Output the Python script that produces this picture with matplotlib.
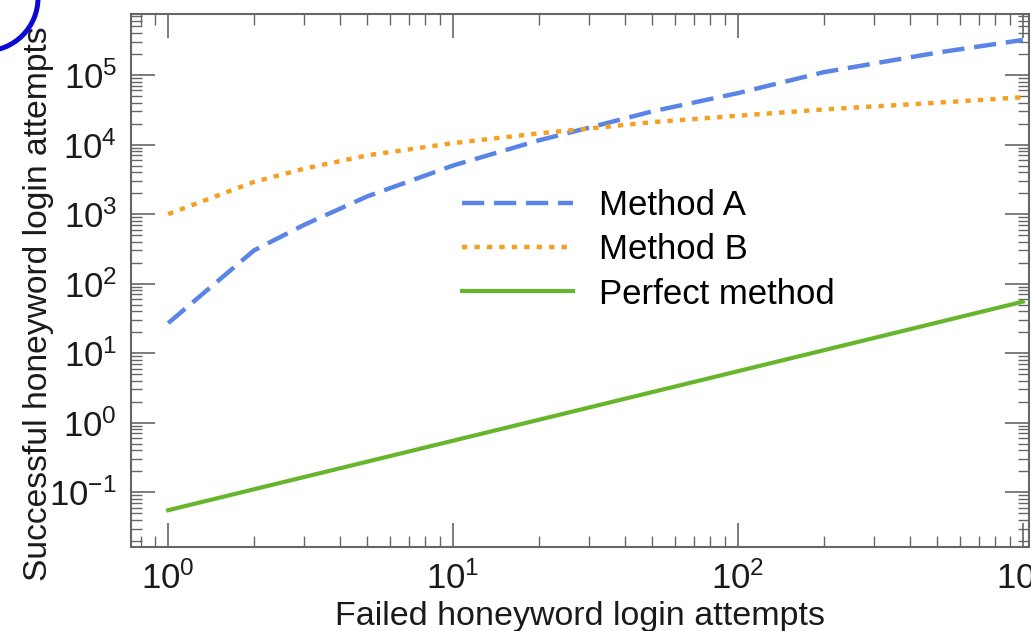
import matplotlib
matplotlib.use("Agg")
import matplotlib.pyplot as plt
from matplotlib.patches import Circle
from matplotlib.ticker import LogLocator, NullFormatter

plt.rcParams['font.family'] = ['Liberation Sans', 'DejaVu Sans']
plt.rcParams['mathtext.default'] = 'regular'

# Failed vs. successful honeyword logins
failed = [1, 2, 3, 5, 10, 20, 30, 50, 100, 200, 500, 1000]
method_a = [27, 300, 700, 1800, 5000, 11500, 17500, 30000, 55000, 110000, 210000, 320000]
method_b = [1000, 2900, 4500, 7000, 10500, 14500, 17000, 21000, 26000, 32000, 40000, 48000]
perfect_rate = 0.055
perfect = [perfect_rate * f for f in failed]

fig = plt.figure(figsize=(10.31, 6.31), dpi=100)
ax = fig.add_axes([0.127, 0.133, 0.871, 0.845])

ax.plot(failed, method_a, color='#5a84e6', lw=3.2, ls=(0, (5.0, 2.2)), label='Method A')
ax.plot(failed, method_b, color='#f5a022', lw=3.2, ls=(0, (1.2, 1.6)), label='Method B')
ax.plot(failed, perfect, color='#66b52c', lw=3.0, label='Perfect method')

ax.set_xscale('log')
ax.set_yscale('log')
ax.set_xlim(0.74, 1050)
ax.set_ylim(10 ** -1.79, 10 ** 5.88)

ax.yaxis.set_major_locator(LogLocator(base=10, numticks=20))
ax.yaxis.set_minor_locator(LogLocator(base=10, subs=range(2, 10), numticks=20))
ax.yaxis.set_minor_formatter(NullFormatter())

ax.tick_params(which='both', direction='in', top=True, right=True, colors='#666666',
               labelcolor='#1a1a1a', labelsize=25)
ax.tick_params(which='major', length=17, width=1.2, pad=10)
ax.tick_params(which='minor', length=8, width=1.0)
for sp in ax.spines.values():
    sp.set_color('#666666')
    sp.set_linewidth(1.5)

ax.set_xlabel('Failed honeyword login attempts', fontsize=24.5, color='#1a1a1a', labelpad=4)
ax.set_ylabel('Successful honeyword login attempts', fontsize=24.2, color='#1a1a1a')
ax.yaxis.set_label_coords(-0.086, 0.456)

ax.legend(loc='upper left', bbox_to_anchor=(0.369, 0.671), frameon=False, fontsize=25,
          handlelength=3.2, handletextpad=0.75, labelspacing=0.32, borderpad=0,
          borderaxespad=0)

# blue ring in the top-left corner
ov = fig.add_axes([0, 0, 1, 1], zorder=5)
ov.set_xlim(0, 1031)
ov.set_ylim(631, 0)
ov.axis('off')
ov.patch.set_alpha(0)
ov.add_patch(Circle((-15, -2), 53, fill=False, ec='#0a0ad2', lw=3.6))

fig.savefig('out.png', dpi=100)
